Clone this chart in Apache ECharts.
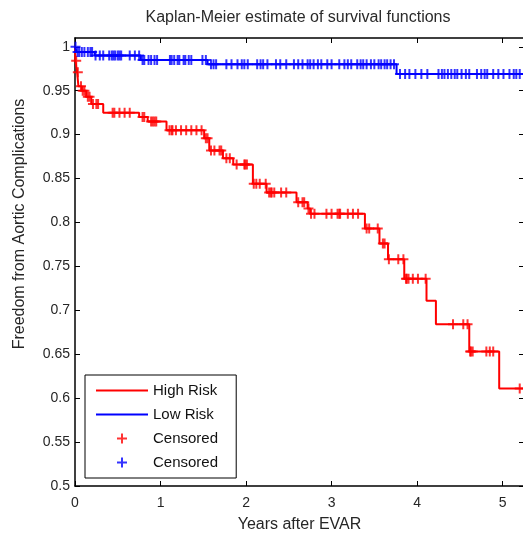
<!DOCTYPE html>
<html>
<head>
<meta charset="utf-8">
<script src="https://cdn.jsdelivr.net/npm/echarts@6/dist/echarts.min.js"></script>
<style>
  html, body { margin: 0; padding: 0; background: #fff; }
  #chart { width: 523px; height: 535px; }
</style>
</head>
<body>
<div id="chart"></div>
<script>
// Text
const titleText = 'Kaplan-Meier estimate of survival functions';
const xAxisName = 'Years after EVAR';
const yAxisName = 'Freedom from Aortic Complications';
const highName = 'High Risk';
const lowName = 'Low Risk';
const censorHighName = 'Censored';
const censorLowName = 'Censored ';

// Axis ticks
const xTickValues = [0, 1, 2, 3, 4, 5];
const yTickValues = [0.5, 0.55, 0.6, 0.65, 0.7, 0.75, 0.8, 0.85, 0.9, 0.95, 1];
const xMin = 0, xMax = 5.25;
const yMin = 0.5, yMax = 1.01;

// High risk group: step times (years) and survival after each step
const highTimes = [0, 0.005, 0.025, 0.04, 0.08, 0.13, 0.19, 0.33, 0.75, 0.85, 1.07, 1.51, 1.57, 1.73, 1.85,
  2.08, 2.24, 2.59, 2.72, 2.75, 3.39, 3.56, 3.66, 3.85, 4.11, 4.22, 4.61, 4.96, 5.25];
const highSurv = [1, 0.984, 0.971, 0.955, 0.950, 0.943, 0.935, 0.925, 0.920, 0.915, 0.905, 0.896, 0.882, 0.873, 0.866,
  0.844, 0.834, 0.823, 0.816, 0.810, 0.793, 0.776, 0.758, 0.736, 0.711, 0.684, 0.653, 0.611, 0.611];
// High risk group: censoring times (years)
const highCensored = [0.014, 0.033, 0.07, 0.09, 0.11, 0.15, 0.17, 0.21, 0.25, 0.27, 0.44, 0.46, 0.52, 0.58, 0.64,
  0.79, 0.81, 0.89, 0.91, 0.93, 0.95, 1.105, 1.13, 1.14, 1.18, 1.24, 1.30, 1.36, 1.42, 1.48,
  1.53, 1.55, 1.59, 1.63, 1.69, 1.71, 1.77, 1.81, 1.89, 1.98, 1.99, 2.01, 2.09, 2.12, 2.16, 2.23,
  2.27, 2.29, 2.30, 2.33, 2.41, 2.47, 2.61, 2.66, 2.68, 2.73, 2.76, 2.80, 2.94, 3.00, 3.07, 3.09, 3.10,
  3.19, 3.25, 3.31, 3.41, 3.44, 3.54, 3.60, 3.62, 3.67, 3.78, 3.84, 3.87, 3.88, 3.90, 3.95, 4.01, 4.10,
  4.42, 4.54, 4.59, 4.62, 4.63, 4.65, 4.81, 4.85, 4.89, 5.20];

// Low risk group: step times (years) and survival after each step
const lowTimes = [0, 0.02, 0.23, 0.77, 1.55, 3.76, 5.25];
const lowSurv = [1, 0.994, 0.990, 0.985, 0.980, 0.969, 0.969];
// Low risk group: censoring times (years)
const lowCensored = [0.006, 0.03, 0.05, 0.08, 0.11, 0.15, 0.18, 0.20, 0.24, 0.29, 0.33, 0.40, 0.43, 0.45, 0.47,
  0.50, 0.52, 0.54, 0.64, 0.70, 0.75, 0.79, 0.81, 0.86, 0.89, 0.93, 0.96, 1.11, 1.13, 1.16, 1.20, 1.22,
  1.27, 1.29, 1.33, 1.36, 1.49, 1.53, 1.59, 1.62, 1.65, 1.77, 1.83, 1.90, 1.95, 1.98, 2.02, 2.13, 2.17,
  2.20, 2.25, 2.35, 2.40, 2.47, 2.56, 2.61, 2.66, 2.72, 2.75, 2.79, 2.84, 2.88, 2.95, 3.00, 3.09, 3.15,
  3.19, 3.23, 3.30, 3.34, 3.37, 3.41, 3.46, 3.50, 3.55, 3.58, 3.62, 3.65, 3.69, 3.73, 3.80, 3.86, 3.91,
  3.98, 4.05, 4.12, 4.25, 4.29, 4.32, 4.36, 4.40, 4.44, 4.47, 4.52, 4.57, 4.61, 4.70, 4.75, 4.79, 4.82,
  4.89, 4.95, 5.01, 5.08, 5.13, 5.16, 5.20];

// Survival level of a step curve at time t
function levelAt(times, surv, t) {
  let v = surv[0];
  for (let i = 0; i < times.length; i++) {
    if (times[i] <= t) v = surv[i];
  }
  return v;
}

const RED = '#ff0000';
const BLUE = '#0000ff';
const FONT = '"Liberation Sans", Arial, sans-serif';
const PLUS = 'path://M4,0 H6 V4 H10 V6 H6 V10 H4 V6 H0 V4 H4 Z';

const chart = echarts.init(document.getElementById('chart'), null, { renderer: 'canvas' });

const axisBase = {
  type: 'value',
  axisLine: { show: true, onZero: false, lineStyle: { color: '#000', width: 1.5 } },
  axisTick: { show: true, inside: true, length: 5, lineStyle: { color: '#000', width: 1 } },
  splitLine: { show: false }
};

chart.setOption({
  animation: false,
  backgroundColor: '#fff',
  title: {
    text: titleText,
    left: 293,
    top: 5,
    textAlign: 'center',
    textStyle: { fontFamily: FONT, fontSize: 16, fontWeight: 'normal', color: '#2a2a2a' }
  },
  grid: { left: 75, top: 38, width: 449, height: 448, outerBoundsMode: 'none', containLabel: false },
  legend: {
    orient: 'vertical',
    left: 85,
    top: 375,
    itemWidth: 52,
    itemHeight: 10,
    itemGap: 9,
    padding: [8, 14, 8, 10],
    borderColor: '#000',
    borderWidth: 1,
    backgroundColor: '#fff',
    selectedMode: false,
    textStyle: { fontFamily: FONT, fontSize: 15, color: '#111' },
    data: [
      { name: highName, itemStyle: { opacity: 0 } },
      { name: lowName, itemStyle: { opacity: 0 } },
      { name: censorHighName },
      { name: censorLowName }
    ]
  },
  xAxis: [
    Object.assign({}, axisBase, {
      position: 'bottom',
      min: xMin, max: xMax,
      axisTick: Object.assign({}, axisBase.axisTick, { customValues: xTickValues }),
      axisLabel: { customValues: xTickValues, margin: 10, fontFamily: FONT, fontSize: 14, color: '#262626' },
      name: xAxisName,
      nameLocation: 'middle',
      nameGap: 31,
      nameTextStyle: { fontFamily: FONT, fontSize: 16, color: '#262626' }
    }),
    Object.assign({}, axisBase, {
      position: 'top',
      min: xMin, max: xMax,
      axisTick: Object.assign({}, axisBase.axisTick, { customValues: xTickValues }),
      axisLabel: { show: false }
    })
  ],
  yAxis: [
    Object.assign({}, axisBase, {
      position: 'left',
      min: yMin, max: yMax,
      axisTick: Object.assign({}, axisBase.axisTick, { customValues: yTickValues }),
      axisLabel: { customValues: yTickValues, margin: 5, fontFamily: FONT, fontSize: 14, color: '#262626' },
      name: yAxisName,
      nameLocation: 'middle',
      nameGap: 47,
      nameTextStyle: { fontFamily: FONT, fontSize: 16, color: '#262626', padding: [0, 0, 0, 76] }
    }),
    Object.assign({}, axisBase, {
      position: 'right',
      min: yMin, max: yMax,
      axisTick: Object.assign({}, axisBase.axisTick, { customValues: yTickValues }),
      axisLabel: { show: false }
    })
  ],
  series: [
    {
      name: highName,
      type: 'line',
      step: 'end',
      symbol: 'none',
      color: RED,
      lineStyle: { color: RED, width: 2 },
      data: highTimes.map((t, i) => [t, highSurv[i]]),
      z: 2
    },
    {
      name: lowName,
      type: 'line',
      step: 'end',
      symbol: 'none',
      color: BLUE,
      lineStyle: { color: BLUE, width: 2 },
      data: lowTimes.map((t, i) => [t, lowSurv[i]]),
      z: 2
    },
    {
      name: censorHighName,
      type: 'scatter',
      symbol: PLUS,
      symbolSize: 10,
      color: RED,
      itemStyle: { color: RED },
      data: highCensored.map(t => [t, levelAt(highTimes, highSurv, t)]),
      z: 3
    },
    {
      name: censorLowName,
      type: 'scatter',
      symbol: PLUS,
      symbolSize: 10,
      color: BLUE,
      itemStyle: { color: BLUE },
      data: lowCensored.map(t => [t, levelAt(lowTimes, lowSurv, t)]),
      z: 3
    }
  ]
});
</script>
</body>
</html>
